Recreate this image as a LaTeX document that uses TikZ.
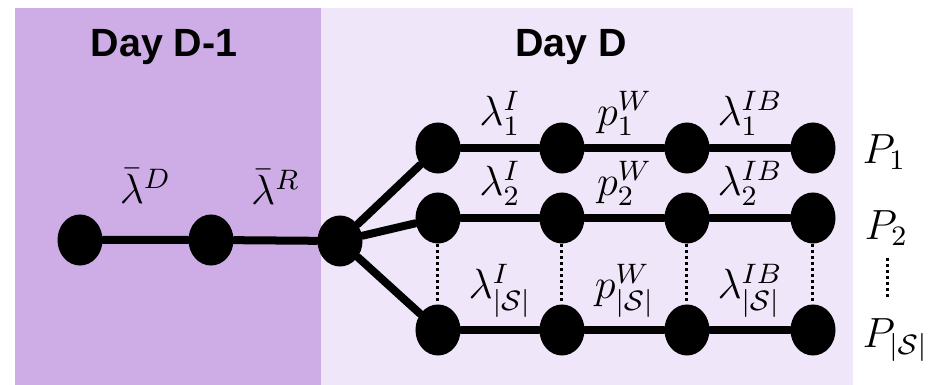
\documentclass[tikz,border=0pt]{standalone}
\usepackage{amsmath,amssymb}
\usepackage{fontspec}
\setsansfont{Liberation Sans}
\usetikzlibrary{shapes.geometric}
\definecolor{dayprev}{HTML}{CEADE6}
\definecolor{daycur}{HTML}{F0E6F9}
\tikzset{
  every picture/.style={line join=round, line cap=round},
  vtx/.style={ellipse, fill=black, minimum width=0.45cm, minimum height=0.51cm, inner sep=0pt},
  branch/.style={line width=0.08cm},
  vdots/.style={line width=0.03cm, line cap=butt, dash pattern=on 0.03cm off 0.03cm},
  daylbl/.style={font=\sffamily\bfseries\fontsize{11.2}{13}\selectfont},
  lbl/.style={above=0.08cm, inner sep=0pt, font=\fontsize{11.5}{13}\selectfont},
  plbl/.style={anchor=west, inner sep=0pt, font=\fontsize{11.5}{13}\selectfont},
}

\begin{document}
\begin{tikzpicture}[x=0.01cm,y=-0.01cm]
\useasboundingbox (0,0) rectangle (938,385);
% the two day blocks
\fill[dayprev] (15,8) rectangle (321,385);
\fill[daycur] (321,8) rectangle (853,385);
\node[daylbl] (tprev) at (164,47) {Day D-1};
\node[daylbl] (tcur) at (571,47) {Day D};

% day-ahead chain
\node[vtx] (d0) at (80,240) {};
\node[vtx] (d1) at (211,240) {};
\node[vtx] (root) at (340,241) {};
\draw[branch] (d0) -- node[lbl,yshift=0.24cm]{$\bar{\lambda}^D$} (d1)
  -- node[lbl,yshift=0.24cm]{$\bar{\lambda}^R$} (root);

% scenario paths
\foreach \r/\y in {1/148,2/218,3/330}
  \foreach \c/\x in {1/438,2/562,3/687,4/813}
    \node[vtx] (n\r\c) at (\x,\y) {};
\foreach \r/\s in {1/1,2/2,3/{|\mathcal{S}|}}{
  \draw[branch] (root) -- (n\r1);
  \draw[branch] (n\r1) -- node[lbl]{$\lambda^I_{\s}$} (n\r2)
    -- node[lbl]{$p^W_{\s}$} (n\r3)
    -- node[lbl]{$\lambda^{IB}_{\s}$} (n\r4);
}
\foreach \c in {1,...,4}
  \draw[vdots] (n2\c) -- (n3\c);

% scenario probabilities
\node[plbl] (p1) at (862,152) {$P_1$};
\node[plbl] (p2) at (864,228) {$P_2$};
\node[plbl] (p3) at (862,340) {$P_{|\mathcal{S}|}$};
\draw[vdots, shorten <=0.12cm, shorten >=0.2cm] (p2.south -| 888,0) -- (p3.north -| 888,0);
\end{tikzpicture}
\end{document}
